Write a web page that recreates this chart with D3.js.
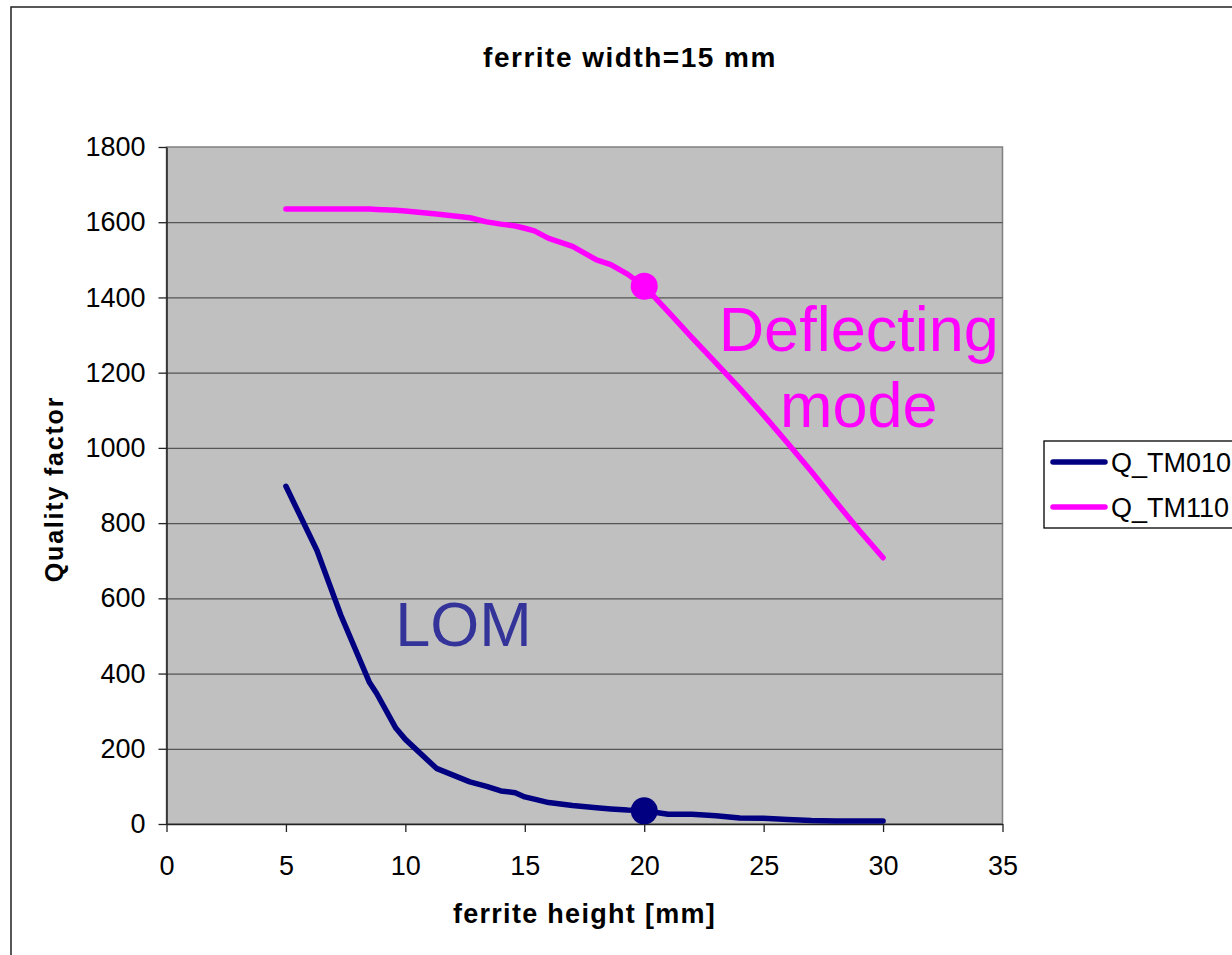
<!DOCTYPE html>
<html>
<head>
<meta charset="utf-8">
<style>
  body { margin: 0; background: #fff; }
  text { font-family: "Liberation Sans", Arial, sans-serif; }
</style>
</head>
<body>
<div id="container"></div>
<script src="https://cdn.jsdelivr.net/npm/d3@7"></script>
<script>

// ferrite height [mm], shared by both series
var heights = [5, 6.3, 7.3, 8.5, 8.8, 9.6, 10, 11.3, 12.7, 13.4, 14, 14.6, 15, 15.4, 16,
  17, 18, 18.6, 19.3, 20, 21, 22, 23, 24, 25, 26, 27, 28, 29, 30];

// Q_TM010 (LOM)
var qTM010 = [898, 727, 555, 376, 347, 255, 225, 148, 112, 100, 88, 83, 72, 66, 57,
  49, 43, 40, 37, 35, 26, 26, 22, 16, 15, 12, 9, 8, 8, 8];

// Q_TM110 (deflecting mode)
var qTM110 = [1635, 1635, 1635, 1635, 1634, 1632, 1630, 1622, 1612, 1601, 1595, 1590, 1584, 1577, 1557,
  1536, 1500, 1487, 1462, 1430, 1362, 1293, 1226, 1158, 1087, 1013, 937, 858, 781, 708];

var markedHeight = 20;

var xTicks = [0, 5, 10, 15, 20, 25, 30, 35];
var yTicks = [0, 200, 400, 600, 800, 1000, 1200, 1400, 1600, 1800];

var seriesNames = ["Q_TM010", "Q_TM110"];
var seriesColors = ["#000080", "#FF00FF"];

var W = 1232, H = 955;
var plot = {left: 166.5, top: 147, right: 1002.5, bottom: 824};

var svg = d3.select("#container")
  .append("svg")
    .attr("width", W)
    .attr("height", H);

// outer chart border (runs off the right and bottom of the picture)
svg.append("rect")
  .attr("x", 11).attr("y", 7)
  .attr("width", 1400).attr("height", 1100)
  .attr("fill", "#fff")
  .attr("stroke", "#222")
  .attr("stroke-width", 1.5);

var x = d3.scaleLinear().domain([0, 35]).range([plot.left, plot.right]);
var y = d3.scaleLinear().domain([0, 1800]).range([plot.bottom, plot.top]);

// plot area
svg.append("rect")
  .attr("x", plot.left).attr("y", plot.top)
  .attr("width", plot.right - plot.left)
  .attr("height", plot.bottom - plot.top)
  .attr("fill", "#C0C0C0")
  .attr("stroke", "#808080")
  .attr("stroke-width", 1.5);

// gridlines
svg.append("g")
  .attr("transform", "translate(" + plot.left + ",0)")
  .call(d3.axisLeft(y)
    .tickValues(yTicks.filter(function(d) { return d > 0 && d < 1800; }))
    .tickSize(-(plot.right - plot.left))
    .tickFormat(""))
  .call(function(g) {
    g.select(".domain").remove();
    g.selectAll("line").attr("stroke", "#555").attr("stroke-width", 1.3);
  });

// y axis
svg.append("g")
  .attr("transform", "translate(" + plot.left + ",0)")
  .call(d3.axisLeft(y).tickValues(yTicks).tickFormat(d3.format("d"))
    .tickSize(8).tickSizeOuter(0).tickPadding(13))
  .call(function(g) {
    g.select(".domain").attr("stroke", "#222").attr("stroke-width", 1.5);
    g.selectAll(".tick line").attr("stroke", "#222").attr("stroke-width", 1.3);
    g.selectAll("text").attr("font-size", 27).attr("fill", "#000")
      .style("font-family", "'Liberation Sans', Arial, sans-serif");
  });

// x axis
svg.append("g")
  .attr("transform", "translate(0," + plot.bottom + ")")
  .call(d3.axisBottom(x).tickValues(xTicks).tickSize(8).tickSizeOuter(0).tickPadding(24))
  .call(function(g) {
    g.select(".domain").attr("stroke", "#222").attr("stroke-width", 1.5);
    g.selectAll(".tick line").attr("stroke", "#222").attr("stroke-width", 1.3);
    g.selectAll("text").attr("font-size", 27).attr("fill", "#000")
      .style("font-family", "'Liberation Sans', Arial, sans-serif");
  });

// title and axis titles
svg.append("text")
  .attr("x", 630).attr("y", 66.5)
  .attr("text-anchor", "middle")
  .attr("font-size", 28).attr("font-weight", "bold")
  .attr("letter-spacing", 1.5)
  .text("ferrite width=15 mm");

svg.append("text")
  .attr("x", (plot.left + plot.right) / 2).attr("y", 923)
  .attr("text-anchor", "middle")
  .attr("font-size", 27).attr("font-weight", "bold")
  .attr("letter-spacing", 1.3)
  .text("ferrite height [mm]");

svg.append("text")
  .attr("transform", "translate(63," + 489 + ") rotate(-90)")
  .attr("text-anchor", "middle")
  .attr("font-size", 25).attr("font-weight", "bold")
  .attr("letter-spacing", 1.8)
  .text("Quality factor");

// series
var series = [qTM010, qTM110];
var line = d3.line()
  .x(function(d) { return x(d[0]); })
  .y(function(d) { return y(d[1]); });

series.forEach(function(vals, i) {
  var pts = heights.map(function(h, j) { return [h, vals[j]]; });
  svg.append("path")
    .datum(pts)
    .attr("d", line)
    .attr("fill", "none")
    .attr("stroke", seriesColors[i])
    .attr("stroke-width", 5.5)
    .attr("stroke-linejoin", "round")
    .attr("stroke-linecap", "round");

  var k = heights.indexOf(markedHeight);
  svg.append("circle")
    .attr("cx", x(markedHeight))
    .attr("cy", y(vals[k]))
    .attr("r", 13.5)
    .attr("fill", seriesColors[i]);
});

// annotations
svg.append("text")
  .attr("x", x(12.43)).attr("y", y(474))
  .attr("text-anchor", "middle")
  .attr("font-size", 63)
  .attr("fill", "#333399")
  .text("LOM");

svg.append("text")
  .attr("x", x(28.98)).attr("y", y(1257))
  .attr("text-anchor", "middle")
  .attr("font-size", 63)
  .attr("fill", "#FF00FF")
  .text("Deflecting");

svg.append("text")
  .attr("x", x(28.98)).attr("y", y(1055))
  .attr("text-anchor", "middle")
  .attr("font-size", 63)
  .attr("fill", "#FF00FF")
  .text("mode");

// legend
var legend = svg.append("g").attr("transform", "translate(1044,441)");
legend.append("rect")
  .attr("x", 0).attr("y", 0)
  .attr("width", 300).attr("height", 87)
  .attr("fill", "#fff")
  .attr("stroke", "#000")
  .attr("stroke-width", 1.3);

seriesNames.forEach(function(name, i) {
  var ly = 21 + i * 45;
  legend.append("line")
    .attr("x1", 9).attr("x2", 61)
    .attr("y1", ly).attr("y2", ly)
    .attr("stroke", seriesColors[i])
    .attr("stroke-width", 5.5)
    .attr("stroke-linecap", "round");
  legend.append("text")
    .attr("x", 67).attr("y", ly + 10)
    .attr("font-size", 27)
    .text(name);
});
</script>
</body>
</html>
